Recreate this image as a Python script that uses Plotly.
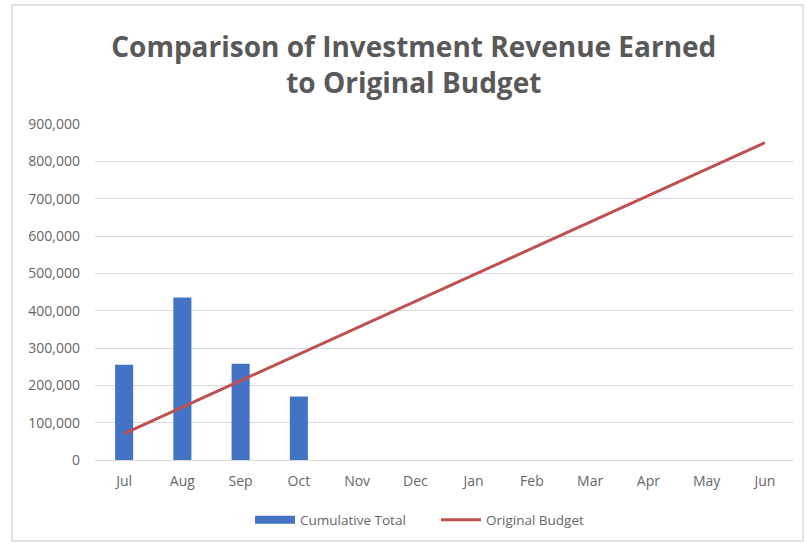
import plotly.graph_objects as go

months = ["Jul", "Aug", "Sep", "Oct", "Nov", "Dec", "Jan", "Feb", "Mar", "Apr", "May", "Jun"]
cumulative_months = ["Jul", "Aug", "Sep", "Oct"]
cumulative_total = [255000, 435000, 258000, 170000]
original_budget = [70833, 141667, 212500, 283333, 354167, 425000,
                   495833, 566667, 637500, 708333, 779167, 850000]
y_ticks = [0, 100000, 200000, 300000, 400000, 500000, 600000, 700000, 800000, 900000]
y_tick_labels = ["0", "100,000", "200,000", "300,000", "400,000", "500,000",
                 "600,000", "700,000", "800,000", "900,000"]

BLUE = "#4472C4"
RED = "#C0504D"
GRAY = "#595959"
TICK_GRAY = "#666666"

fig = go.Figure()
fig.add_trace(go.Bar(
    x=cumulative_months, y=cumulative_total, name="Cumulative Total",
    marker=dict(color=BLUE, line=dict(width=0)), showlegend=False,
    legendgroup="cum",
))
# wide band swatch for the bar series in the legend
fig.add_trace(go.Scatter(
    x=[None], y=[None], name="Cumulative Total", mode="lines",
    line=dict(color=BLUE, width=8), legendgroup="cum",
))
fig.add_trace(go.Scatter(
    x=months, y=original_budget, name="Original Budget", mode="lines",
    line=dict(color=RED, width=3),
))

L, R, T, B = 95, 11, 124, 85
W, H = 805, 545
pw, ph = W - L - R, H - T - B

fig.update_layout(
    width=W, height=H,
    margin=dict(l=L, r=R, t=T, b=B, autoexpand=False),
    paper_bgcolor="white", plot_bgcolor="white",
    font=dict(family="Open Sans, sans-serif", color=GRAY),
    title=dict(
        text="Comparison of Investment Revenue Earned<br>to Original Budget",
        x=0.514, xanchor="center", y=(H - 57) / H, yanchor="middle",
        font=dict(size=28, color=GRAY, family="Open Sans, sans-serif", weight="bold"),
    ),
    bargap=0.69,
    showlegend=True,
    legend=dict(
        orientation="h", xref="container", yref="container",
        x=436 / W, xanchor="center", y=(H - 520) / H, yanchor="middle",
        font=dict(size=13.5, color=TICK_GRAY), itemwidth=40, traceorder="normal",
        entrywidth=131, entrywidthmode="pixels",
    ),
    xaxis=dict(
        categoryorder="array", categoryarray=months, range=[-0.5, 11.5],
        showgrid=False, showline=True, linecolor="#D9D9D9", linewidth=1,
        ticks="", tickfont=dict(size=14, color=TICK_GRAY), ticklabelstandoff=8,
    ),
    yaxis=dict(
        range=[0, 900000], tickvals=y_ticks, ticktext=y_tick_labels,
        showgrid=True, gridcolor="#D9D9D9", gridwidth=1, zeroline=False,
        showline=False, ticks="", tickfont=dict(size=14, color=TICK_GRAY),
        ticklabelstandoff=14,
    ),
    shapes=[dict(
        type="rect", xref="paper", yref="paper",
        x0=(12 - L) / pw, x1=(803 - L) / pw,
        y0=(H - B - 541) / ph, y1=(H - B - 5) / ph,
        line=dict(color="#D9D9D9", width=1.5), fillcolor="rgba(0,0,0,0)", layer="below",
    )],
)

fig.write_html("out.html")
